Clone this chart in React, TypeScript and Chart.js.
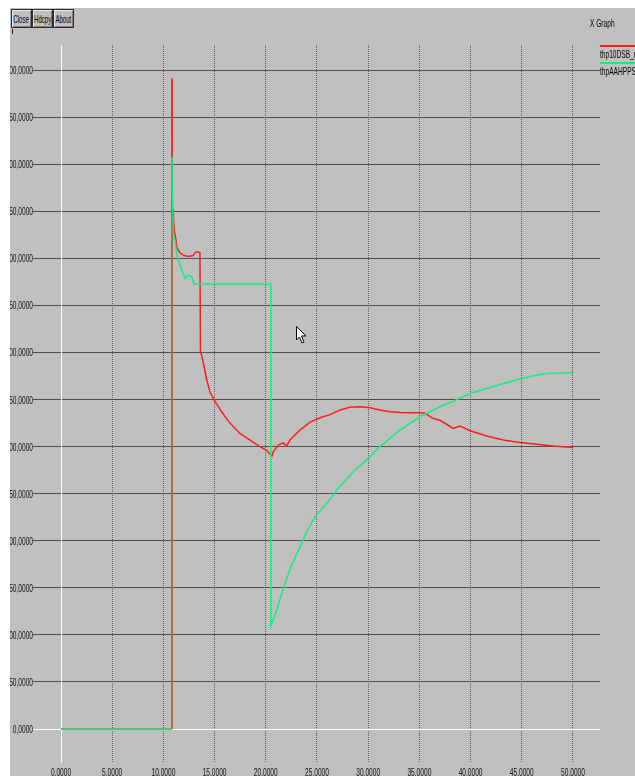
import React, { useEffect, useRef } from 'react';
import { Chart, registerables } from 'chart.js';

Chart.register(...registerables);

// ---- data ----
const seriesLabels = ['thp10DSB_rg', 'thpAAHPPSB_'];
const graphTitle = 'X Graph';
const buttonLabels = ['Close', 'Hdcpy', 'About'];

const xMin = 0;
const xMax = 52.64;
const xStep = 5;
const yMin = -35;
const yMax = 726.6;
const yStep = 50;

const redX = [0, 10.84, 10.84, 10.88, 10.95, 11.05, 11.2, 11.3, 11.6, 12.0, 12.5, 12.9, 13.1, 13.3, 13.57, 13.62, 13.9, 14.23, 14.55, 15.04, 15.69, 16.5, 17.48, 18.46, 19.43, 20.09, 20.6, 20.75, 21.22, 21.71, 22.04, 22.36, 23.34, 24.32, 25.29, 26.27, 27.25, 28.22, 29.2, 30.18, 31.15, 32.13, 33.11, 34.08, 35.06, 35.55, 36.33, 37.01, 38.31, 38.96, 39.94, 41.57, 43.19, 44.82, 46.45, 48.08, 50.03];
const redY = [0, 0, 691, 545, 552, 530, 522, 512, 506, 503, 502, 503, 506, 507, 506, 402, 389, 371, 358, 348, 337, 325, 314, 307, 300, 296, 290, 295, 301.7, 304, 300.6, 307, 317.6, 326, 330.7, 334, 338.9, 341.7, 342.4, 341.3, 338.9, 337, 336.3, 336, 336, 335.4, 330, 328, 319.4, 321.9, 316.9, 311.2, 307, 304.5, 302.4, 300.6, 299];

const greenX = [0, 10.84, 10.84, 10.87, 10.97, 11.13, 11.3, 11.46, 11.79, 12.11, 12.43, 12.76, 13.02, 20.5, 20.5, 21.07, 21.71, 22.53, 23.51, 23.99, 24.8, 25.95, 27.08, 28.54, 30.01, 31.15, 33.11, 35.06, 37.01, 38.96, 39.94, 41.57, 43.19, 44.82, 46.45, 47.59, 50.03];
const greenY = [0, 0, 608, 567, 526.5, 519, 505, 498, 487.6, 478.7, 482, 480.4, 472.7, 472.7, 109.4, 126.4, 149.5, 174.2, 197.2, 209.6, 225.5, 239.7, 255.7, 273.3, 287.5, 300, 317.6, 331.7, 342.4, 351.3, 356.6, 361.8, 367.1, 371.8, 376, 377.8, 378.5];

const RED = '#ff1c1c';
const GREEN = '#14ec84';
const BROWN = '#a86a32';
const FONT = '11px "Liberation Sans", "DejaVu Sans", sans-serif';
const SQUEEZE = 0.6;
const fmt = (v: number) => Number(v).toFixed(4).replace('.', ',');

function squeezedText(ctx: any, text: string, x: number, y: number, align: string) {
  ctx.save();
  ctx.translate(x, y);
  ctx.scale(SQUEEZE, 1);
  ctx.textAlign = align;
  ctx.fillText(text, 0, 0);
  ctx.restore();
}

// draws the tick labels of the library's scales in a condensed face
const tickLabelPlugin = {
  id: 'condensedTicks',
  afterDraw(chart: any) {
    const { ctx } = chart;
    const xs = chart.scales.x;
    const ys = chart.scales.y;
    ctx.save();
    ctx.font = FONT;
    ctx.fillStyle = '#111';
    ctx.textBaseline = 'alphabetic';
    ys.ticks.forEach((t: any) => {
      const py = ys.getPixelForValue(t.value);
      squeezedText(ctx, fmt(t.value), ys.right - 28, py + 4, 'right');
    });
    xs.ticks.forEach((t: any) => {
      const px = xs.getPixelForValue(t.value);
      squeezedText(ctx, fmt(t.value), px, xs.top + 14, 'center');
    });
    ctx.restore();
  },
};

const legendPlugin = {
  id: 'xgraphLegend',
  afterDraw(chart: any) {
    const { ctx } = chart;
    ctx.save();
    ctx.font = FONT;
    ctx.fillStyle = '#000';
    ctx.textBaseline = 'alphabetic';
    squeezedText(ctx, graphTitle, 580, 19, 'left');
    chart.data.datasets.forEach((ds: any, i: number) => {
      const y0 = 38 + i * 17;
      ctx.strokeStyle = ds.borderColor;
      ctx.lineWidth = 2;
      ctx.beginPath();
      ctx.moveTo(590, y0);
      ctx.lineTo(625, y0);
      ctx.stroke();
      squeezedText(ctx, ds.label, 590, y0 + 12, 'left');
    });
    ctx.restore();
  },
};

export default function App() {
  const ref = useRef<HTMLCanvasElement | null>(null);

  useEffect(() => {
    if (!ref.current) return;
    const chart = new Chart(ref.current, {
      type: 'line',
      data: {
        datasets: [
          {
            label: seriesLabels[0],
            data: redX.map((x, i) => ({ x, y: redY[i] })),
            borderColor: RED,
            borderWidth: 1.5,
            pointRadius: 0,
            tension: 0,
            order: 2,
            segment: {
              borderColor: (c: any) => (c.p0DataIndex === 1 ? BROWN : undefined),
            },
          },
          {
            label: seriesLabels[1],
            data: greenX.map((x, i) => ({ x, y: greenY[i] })),
            borderColor: GREEN,
            borderWidth: 1.5,
            pointRadius: 0,
            tension: 0,
            order: 1,
            segment: {
              borderColor: (c: any) => (c.p0DataIndex === 1 ? BROWN : undefined),
            },
          },
        ],
      },
      options: {
        animation: false,
        responsive: false,
        layout: { padding: { top: 37, right: 35, left: 0, bottom: 0 } },
        plugins: {
          legend: { display: false },
          tooltip: { enabled: false },
        },
        scales: {
          x: {
            type: 'linear',
            min: xMin,
            max: xMax,
            afterFit: (s: any) => {
              s.height = 14;
            },
            ticks: {
              stepSize: xStep,
              includeBounds: false,
              autoSkip: false,
              maxRotation: 0,
              display: false,
              callback: (v: any) => fmt(v),
            },
            grid: {
              color: (c: any) => (c.tick && c.tick.value === 0 ? 'rgba(0,0,0,0)' : '#5c5c5c'),
              drawTicks: false,
              lineWidth: 1,
            },
            border: { display: false, dash: [1, 1] },
          },
          y: {
            type: 'linear',
            min: yMin,
            max: yMax,
            afterFit: (s: any) => {
              s.width = 51;
            },
            ticks: {
              stepSize: yStep,
              includeBounds: false,
              autoSkip: false,
              display: false,
              callback: (v: any) => fmt(v),
            },
            grid: {
              color: (c: any) => (c.tick && c.tick.value === 0 ? '#ffffff' : '#505050'),
              tickLength: 28,
              drawTicks: true,
              lineWidth: 1,
            },
            border: { display: true, color: '#ffffff', width: 1 },
          },
        },
      },
      plugins: [tickLabelPlugin, legendPlugin],
    } as any);
    return () => chart.destroy();
  }, []);

  const btnStyle = (left: number): React.CSSProperties => ({
    position: 'absolute',
    left,
    top: 1,
    width: 19,
    height: 17,
    border: '1px solid #2a2a2a',
    boxShadow: 'inset 1px 1px 0 #e8e8e8, inset -1px -1px 0 #808080',
    background: '#c0c0c0',
    display: 'flex',
    alignItems: 'center',
    justifyContent: 'center',
    overflow: 'hidden',
    fontFamily: '"Liberation Sans", sans-serif',
    fontSize: 11,
    color: '#000',
  });

  return (
    <div
      style={{
        position: 'fixed',
        left: 10,
        top: 8,
        width: 625,
        height: 768,
        background: '#c0c0c0',
        overflow: 'hidden',
      }}
    >
      <canvas ref={ref} width={625} height={768} style={{ display: 'block' }} />
      {buttonLabels.map((b, i) => (
        <div key={b} style={btnStyle(1 + i * 21)}>
          <span style={{ display: 'inline-block', transform: 'scaleX(0.55)', whiteSpace: 'nowrap' }}>{b}</span>
        </div>
      ))}
      <div style={{ position: 'absolute', left: 2, top: 21, width: 1, height: 5, background: '#222' }} />
      <svg
        style={{ position: 'absolute', left: 286, top: 318 }}
        width={12}
        height={20}
        viewBox="0 0 12 20"
      >
        <polygon points="0.5,0.5 0.5,14 3.5,11 6,17 8,16 5.5,10 10,10" fill="#fff" stroke="#000" strokeWidth={1} />
      </svg>
    </div>
  );
}
